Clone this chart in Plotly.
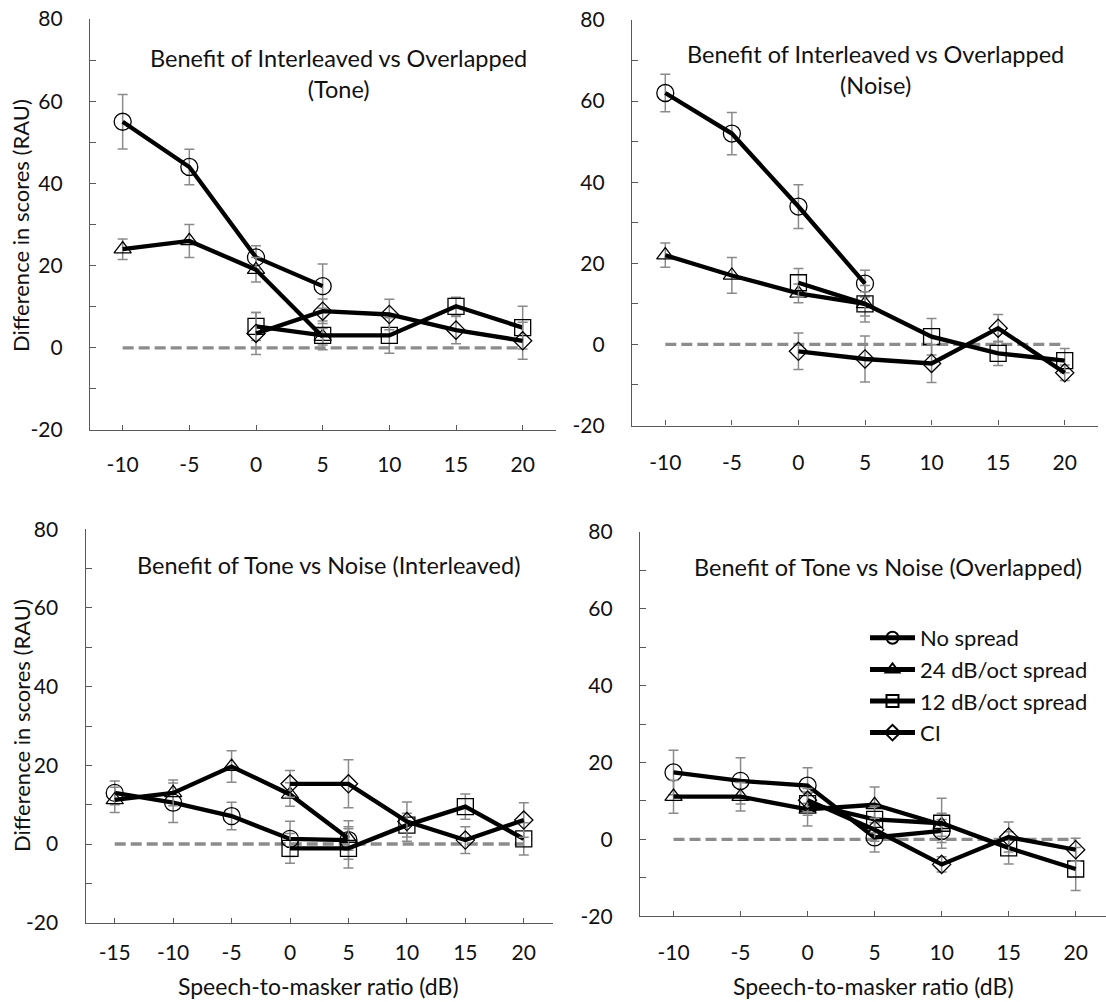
import plotly.graph_objects as go

W, H = 1106, 1002

# ---------------- data ----------------
series_names = ["No spread", "24 dB/oct spread", "12 dB/oct spread", "CI"]

x_cats_top = [-10, -5, 0, 5, 10, 15, 20]
x_cats_bl = [-15, -10, -5, 0, 5, 10, 15, 20]
x_cats_br = [-10, -5, 0, 5, 10, 15, 20]
x_ticktext_top = ["-10", "-5", "0", "5", "10", "15", "20"]
x_ticktext_bl = ["-15", "-10", "-5", "0", "5", "10", "15", "20"]
x_ticktext_br = ["-10", "-5", "0", "5", "10", "15", "20"]
y_tickvals = [-20, 0, 20, 40, 60, 80]
y_ticktext = ["-20", "0", "20", "40", "60", "80"]

# Panel 1: Interleaved vs Overlapped (Tone)
p1_ns_x = [-10, -5, 0, 5]
p1_ns_y = [55, 44, 22, 15]
p1_ns_e = [6.6, 4.3, 2.8, 5.4]
p1_24_x = [-10, -5, 0, 5]
p1_24_y = [24, 26, 19, 2.7]
p1_24_e = [2.5, 4.0, 3.0, 2.0]
p1_12_x = [0, 5, 10, 15, 20]
p1_12_y = [5.2, 3.0, 3.0, 10.1, 4.9]
p1_12_e = [3.4, 3.5, 4.3, 2.2, 5.2]
p1_ci_x = [0, 5, 10, 15, 20]
p1_ci_y = [3.5, 8.9, 8.1, 4.3, 1.7]
p1_ci_e = [5.1, 3.0, 3.7, 3.3, 4.5]

# Panel 2: Interleaved vs Overlapped (Noise)
p2_ns_x = [-10, -5, 0, 5]
p2_ns_y = [62, 52, 34, 15]
p2_ns_e = [4.6, 5.2, 5.4, 3.3]
p2_24_x = [-10, -5, 0, 5]
p2_24_y = [22, 17, 12.6, 10]
p2_24_e = [3.0, 4.4, 2.3, 4.5]
p2_12_x = [0, 5, 10, 15, 20]
p2_12_y = [15.2, 10, 1.9, -2.2, -4]
p2_12_e = [3.5, 3.0, 4.5, 3.0, 3.0]
p2_ci_x = [0, 5, 10, 15, 20]
p2_ci_y = [-1.7, -3.6, -4.7, 4.0, -7.0]
p2_ci_e = [4.5, 5.7, 4.7, 3.4, 1.9]

# Panel 3: Tone vs Noise (Interleaved)
p3_ns_x = [-15, -10, -5, 0, 5]
p3_ns_y = [13, 10.5, 7.1, 1.3, 1.0]
p3_ns_e = [3.0, 5.0, 3.5, 4.5, 4.9]
p3_24_x = [-15, -10, -5, 0, 5]
p3_24_y = [11.2, 13, 19.7, 12.6, 1.4]
p3_24_e = [3.2, 3.3, 4.0, 3.0, 3.0]
p3_12_x = [0, 5, 10, 15, 20]
p3_12_y = [-1.1, -1.1, 4.8, 9.5, 1.3]
p3_12_e = [3.8, 5.0, 3.0, 3.2, 4.1]
p3_ci_x = [0, 5, 10, 15, 20]
p3_ci_y = [15.3, 15.3, 5.7, 1.0, 6.1]
p3_ci_e = [3.4, 6.1, 5.0, 3.4, 4.4]

# Panel 4: Tone vs Noise (Overlapped)
p4_ns_x = [-10, -5, 0, 5, 10]
p4_ns_y = [17.4, 15.2, 14, 0.5, 2.2]
p4_ns_e = [5.8, 6.0, 4.6, 3.8, 3.0]
p4_24_x = [-10, -5, 0, 5, 10]
p4_24_y = [11.1, 11.1, 7.8, 9.0, 3.8]
p4_24_e = [4.3, 3.7, 4.3, 4.6, 3.0]
p4_12_x = [0, 5, 10, 15, 20]
p4_12_y = [9.3, 5.2, 4.2, -2.2, -7.7]
p4_12_e = [3.0, 3.5, 6.5, 4.2, 5.6]
p4_ci_x = [0, 5, 10, 15, 20]
p4_ci_y = [10.2, 2.5, -6.5, 0.6, -2.7]
p4_ci_e = [3.0, 3.0, 2.0, 3.9, 3.0]

panel_titles = [
    "Benefit of Interleaved vs Overlapped<br>(Tone)",
    "Benefit of Interleaved vs Overlapped<br>(Noise)",
    "Benefit of Tone vs Noise (Interleaved)",
    "Benefit of Tone vs Noise (Overlapped)",
]
y_title = "Difference in scores (RAU)"
x_title = "Speech-to-masker ratio (dB)"

# ---------------- styling ----------------
FONT = "Lato, 'Open Sans', sans-serif"
symbols = ["circle-open", "triangle-up-open", "square-open", "diamond-open"]
msizes = [17, 15, 16, 14]
ERR_COLOR = "#8a8a8a"
AX_COLOR = "#595959"


def px_x(p):
    return p / W


def px_y(p):
    return 1 - p / H


fig = go.Figure()

panels = [
    dict(cats=x_cats_top, ticktext=x_ticktext_top,
         series=[(p1_ns_x, p1_ns_y, p1_ns_e), (p1_24_x, p1_24_y, p1_24_e),
                 (p1_12_x, p1_12_y, p1_12_e), (p1_ci_x, p1_ci_y, p1_ci_e)],
         xdom=(90, 556), ydom=(430, 19), xrange=(-12.45, 22.5), xstand=16),
    dict(cats=x_cats_top, ticktext=x_ticktext_top,
         series=[(p2_ns_x, p2_ns_y, p2_ns_e), (p2_24_x, p2_24_y, p2_24_e),
                 (p2_12_x, p2_12_y, p2_12_e), (p2_ci_x, p2_ci_y, p2_ci_e)],
         xdom=(632, 1098), ydom=(425.5, 20), xrange=(-12.5, 22.5), xstand=18),
    dict(cats=x_cats_bl, ticktext=x_ticktext_bl,
         series=[(p3_ns_x, p3_ns_y, p3_ns_e), (p3_24_x, p3_24_y, p3_24_e),
                 (p3_12_x, p3_12_y, p3_12_e), (p3_ci_x, p3_ci_y, p3_ci_e)],
         xdom=(85.5, 553), ydom=(922.7, 529.3), xrange=(-17.5, 22.5), xstand=11),
    dict(cats=x_cats_br, ticktext=x_ticktext_br,
         series=[(p4_ns_x, p4_ns_y, p4_ns_e), (p4_24_x, p4_24_y, p4_24_e),
                 (p4_12_x, p4_12_y, p4_12_e), (p4_ci_x, p4_ci_y, p4_ci_e)],
         xdom=(640, 1106), ydom=(916.3, 531.7), xrange=(-12.5, 22.26), xstand=17),
]

layout_axes = {}
annotations = []
for i, p in enumerate(panels):
    n = i + 1
    xa = "x" if n == 1 else f"x{n}"
    ya = "y" if n == 1 else f"y{n}"
    cats = p["cats"]
    # dashed zero reference line spanning the category positions
    ref_x = [cats[0], cats[-1]]
    fig.add_trace(go.Scatter(
        x=ref_x, y=[0 for _ in ref_x], mode="lines", xaxis=xa, yaxis=ya,
        line=dict(color="#8c8c8c", width=3.3, dash="11px,5px"),
        showlegend=False, hoverinfo="skip"))
    for k, (sx, sy, se) in enumerate(p["series"]):
        fig.add_trace(go.Scatter(
            x=sx, y=sy, mode="lines+markers", name=series_names[k],
            xaxis=xa, yaxis=ya,
            line=dict(color="black", width=4.3),
            marker=dict(symbol=symbols[k], size=msizes[k], color="black",
                        line=dict(width=1.3, color="black")),
            error_y=dict(type="data", array=se, visible=True,
                         color=ERR_COLOR, thickness=1.5, width=5),
            showlegend=(n == 4)))

    x0, x1 = p["xdom"]
    yb, yt = p["ydom"]
    layout_axes["xaxis" if n == 1 else f"xaxis{n}"] = dict(
        domain=[px_x(x0), px_x(x1)], anchor=ya, range=list(p["xrange"]),
        tickmode="array", tickvals=cats, ticktext=p["ticktext"],
        ticks="inside", ticklen=5, tickwidth=1.2, tickcolor=AX_COLOR,
        showline=True, linecolor=AX_COLOR, linewidth=1.3,
        showgrid=False, zeroline=False, automargin=False,
        ticklabelstandoff=p["xstand"],
        tickfont=dict(family=FONT, size=21, color="#111"))
    layout_axes["yaxis" if n == 1 else f"yaxis{n}"] = dict(
        domain=[px_y(yb), px_y(yt)], anchor=xa, range=[-20, 80],
        tickmode="array", tickvals=y_tickvals, ticktext=y_ticktext,
        ticks="inside", ticklen=6, tickwidth=1.2, tickcolor=AX_COLOR,
        minor=dict(dtick=10, tick0=0, ticks="inside", ticklen=6,
                   tickwidth=1.2, tickcolor=AX_COLOR),
        showline=True, linecolor=AX_COLOR, linewidth=1.3,
        showgrid=False, zeroline=False, automargin=False,
        ticklabelstandoff=22,
        tickfont=dict(family=FONT, size=21, color="#111"))

# panel titles
title_pos = [(338, 73), (875, 70), (328, 565), (888, 567)]
for t, (cx, cy) in zip(panel_titles, title_pos):
    annotations.append(dict(
        text=t, xref="paper", yref="paper", x=px_x(cx), y=px_y(cy),
        xanchor="center", yanchor="middle", showarrow=False,
        font=dict(family=FONT, size=23.5, color="#111")))

# y-axis titles
for cy in (226, 726):
    annotations.append(dict(
        text=y_title, xref="paper", yref="paper", x=px_x(21), y=px_y(cy),
        xanchor="center", yanchor="middle", showarrow=False, textangle=-90,
        font=dict(family=FONT, size=22, color="#111")))

# x-axis titles
for cx in (318.5, 873):
    annotations.append(dict(
        text=x_title, xref="paper", yref="paper", x=px_x(cx), y=px_y(986),
        xanchor="center", yanchor="middle", showarrow=False,
        font=dict(family=FONT, size=23, color="#111")))

fig.update_layout(
    width=W, height=H,
    margin=dict(l=0, r=0, t=0, b=0),
    paper_bgcolor="white", plot_bgcolor="white",
    template="none",
    annotations=annotations,
    legend=dict(x=px_x(865), y=px_y(617), xanchor="left", yanchor="top",
                bgcolor="rgba(0,0,0,0)", borderwidth=0,
                font=dict(family=FONT, size=22, color="#111"),
                itemsizing="constant", itemwidth=45, tracegroupgap=0),
    **layout_axes,
)

fig.write_html("out.html")
